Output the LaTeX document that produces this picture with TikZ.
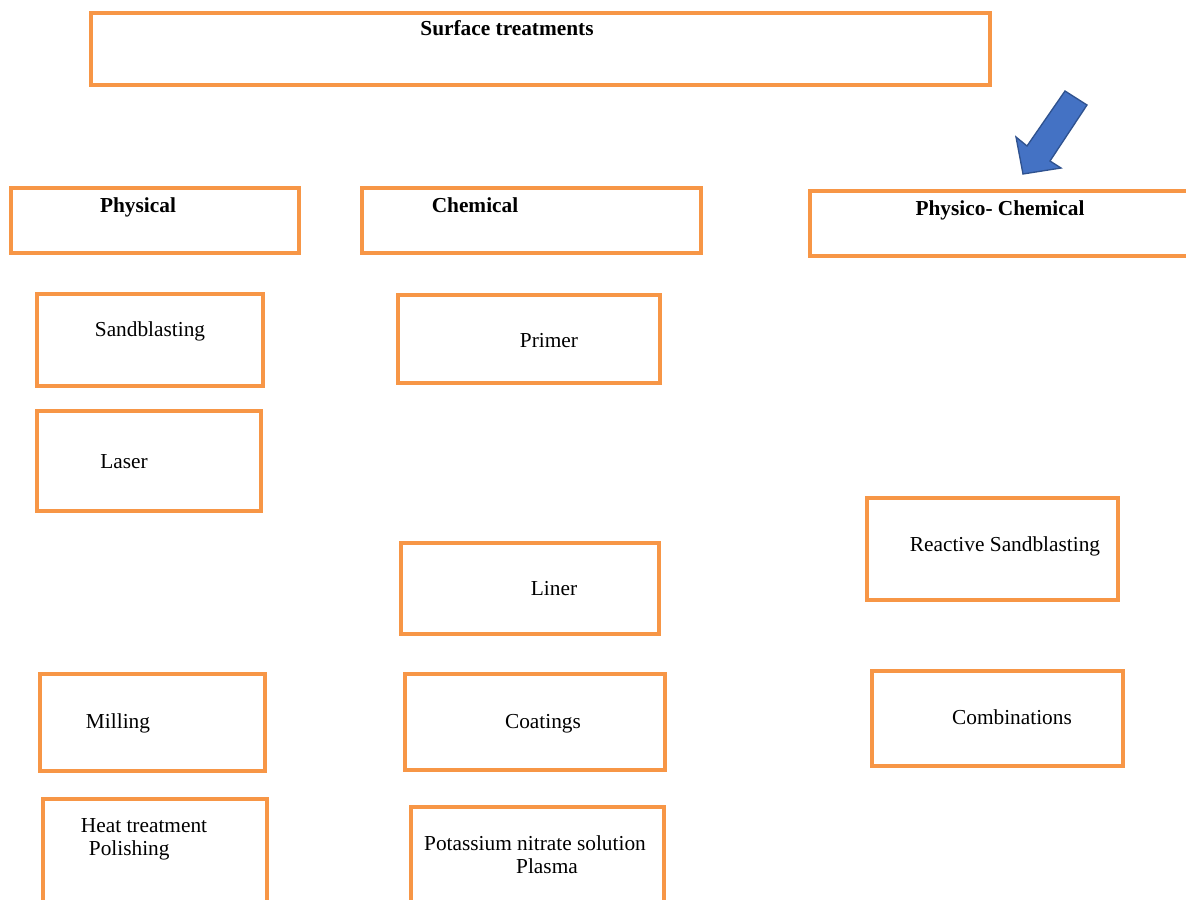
\documentclass[tikz,border=0pt]{standalone}
\usepackage{fontspec}
\setmainfont{Liberation Serif}
\definecolor{boxorange}{HTML}{F79646}
\definecolor{arrowblue}{HTML}{4472C4}
\definecolor{arrowedge}{HTML}{2F528F}
\begin{document}
\begin{tikzpicture}[x=0.75pt,y=-0.75pt,
  box/.style={draw=boxorange,line width=3pt},
  multi/.style={inner sep=0pt,font=\fontsize{16}{17.25}\selectfont},
  lbl/.style={multi,text height=11pt,text depth=4pt},
  head/.style={lbl,font=\fontsize{16}{17.25}\selectfont\bfseries}]
\useasboundingbox (0,0) rectangle (1186,900);
\clip (0,0) rectangle (1186,900);
% boxes
\draw[box] (91,13) rectangle (990,85);
\draw[box] (11,188) rectangle (299,253);
\draw[box] (362,188) rectangle (701,253);
\draw[box] (810,191) rectangle (1200,256);
\draw[box] (37,294) rectangle (263,386);
\draw[box] (37,411) rectangle (261,511);
\draw[box] (40,674) rectangle (265,771);
\draw[box] (43,799) rectangle (267,910);
\draw[box] (398,295) rectangle (660,383);
\draw[box] (401,543) rectangle (659,634);
\draw[box] (405,674) rectangle (665,770);
\draw[box] (411,807) rectangle (664,910);
\draw[box] (867,498) rectangle (1118,600);
\draw[box] (872,671) rectangle (1123,766);
% labels
\node[head] (top) at (507,31) {Surface treatments};
\node[head] (phys) at (138,208) {Physical};
\node[head] (chem) at (475,208) {Chemical};
\node[head] (pc) at (1000,211) {Physico- Chemical};
\node[lbl] (sand) at (150,332) {Sandblasting};
\node[lbl] (laser) at (124,464) {Laser};
\node[lbl] (mill) at (118,724) {Milling};
\node[multi,align=left] (heat) at (144,839) {Heat treatment\\\hspace{6pt}Polishing};
\node[lbl] (primer) at (549,343) {Primer};
\node[lbl] (liner) at (554,591) {Liner};
\node[lbl] (coat) at (543,724) {Coatings};
\node[multi,align=center] (pot) at (535,855) {Potassium nitrate solution\\\hspace*{18pt}Plasma};
\node[lbl] (react) at (1005,547) {Reactive Sandblasting};
\node[lbl] (comb) at (1012,720) {Combinations};
% block arrow
\draw[fill=arrowblue,draw=arrowedge,line width=1pt,line join=miter]
  (1065,91) -- (1087,105) -- (1050,161) -- (1061,168) -- (1023,174)
  -- (1016,137) -- (1027,146) -- cycle;
\end{tikzpicture}
\end{document}
